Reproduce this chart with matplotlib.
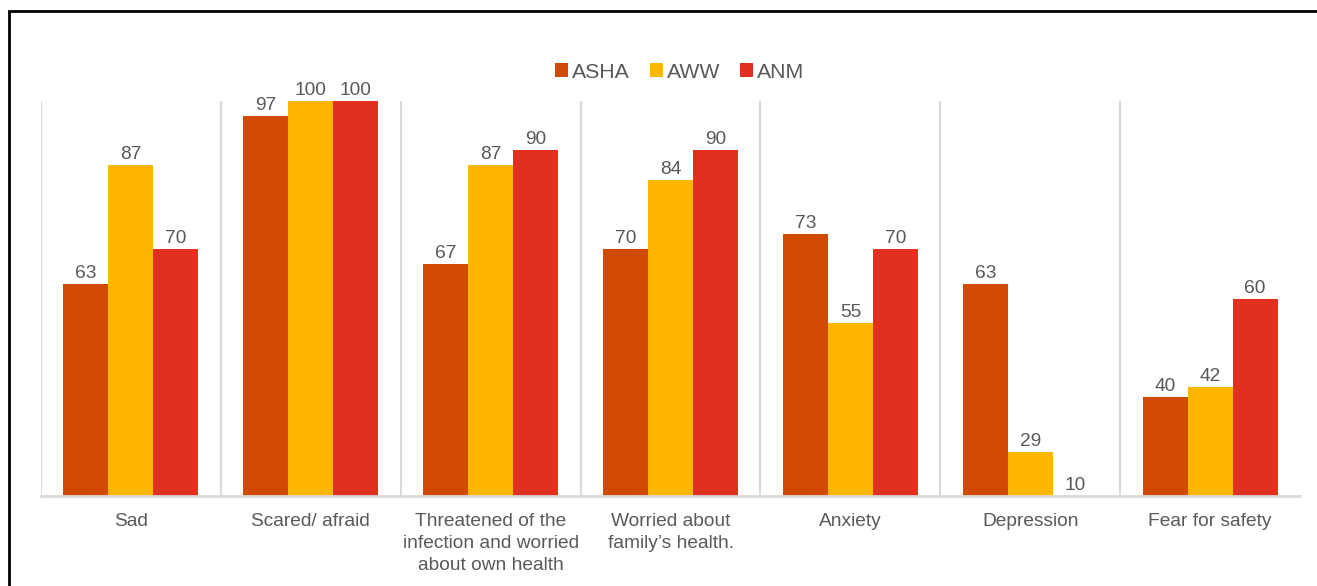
import matplotlib.pyplot as plt
from matplotlib.patches import Rectangle
import numpy as np

plt.rcParams['font.family'] = ['Liberation Sans', 'DejaVu Sans']

categories = ["Sad", "Scared/ afraid", "Threatened of the\ninfection and worried\nabout own health",
              "Worried about\nfamily\u2019s health.", "Anxiety", "Depression", "Fear for safety"]
asha = [63, 97, 67, 70, 73, 63, 40]
aww = [87, 100, 87, 84, 55, 29, 42]
anm = [70, 100, 90, 90, 70, 10, 60]

series = [("ASHA", asha, "#D04A02"), ("AWW", aww, "#FFB600"), ("ANM", anm, "#E0301E")]
text_col = "#595959"
ymin = 20

fig = plt.figure(figsize=(13.17, 5.86), dpi=100)
ax = fig.add_axes([41 / 1317, 1 - 496 / 586, (1300 - 41) / 1317, 395 / 586])

x = np.arange(len(categories))
w = 0.25
for i, (name, vals, col) in enumerate(series):
    pos = x + (i - 1) * w
    ax.bar(pos, vals, width=w, color=col, label=name, zorder=3)
    for p, v in zip(pos, vals):
        ax.text(p, max(v, ymin) + 0.4, str(v), ha="center", va="bottom",
                fontsize=13.8, color=text_col)

# separators between categories
for b in np.arange(len(categories)) - 0.5:
    ax.axvline(b, color="#d9d9d9", lw=1.5, zorder=1)

ax.set_xlim(-0.5, len(categories) - 0.5)
ax.set_ylim(ymin, 100)
ax.set_yticks([])
ax.set_xticks(x)
ax.set_xticklabels(categories, fontsize=13.8, color=text_col, linespacing=1.38)
ax.tick_params(axis="x", length=0, pad=12)
for s in ["top", "right", "left"]:
    ax.spines[s].set_visible(False)
ax.spines["bottom"].set_color("#d9d9d9")
ax.spines["bottom"].set_linewidth(2)
ax.spines["bottom"].set_zorder(4)

leg = ax.legend(loc="center", bbox_to_anchor=(680 / 1317, 1 - 72 / 586), bbox_transform=fig.transFigure,
                ncol=3, frameon=False, fontsize=15.3, handlelength=0.6, handleheight=0.6,
                handletextpad=0.2, columnspacing=0.94)
for t in leg.get_texts():
    t.set_color(text_col)

# outer frame (cut off at right and bottom)
fig.patches.append(Rectangle((9 / 1317, -0.05), 1.2, 1 - 11 / 586 + 0.05, transform=fig.transFigure,
                             fill=False, edgecolor="black", lw=2))

fig.savefig("out.png", dpi=100)
